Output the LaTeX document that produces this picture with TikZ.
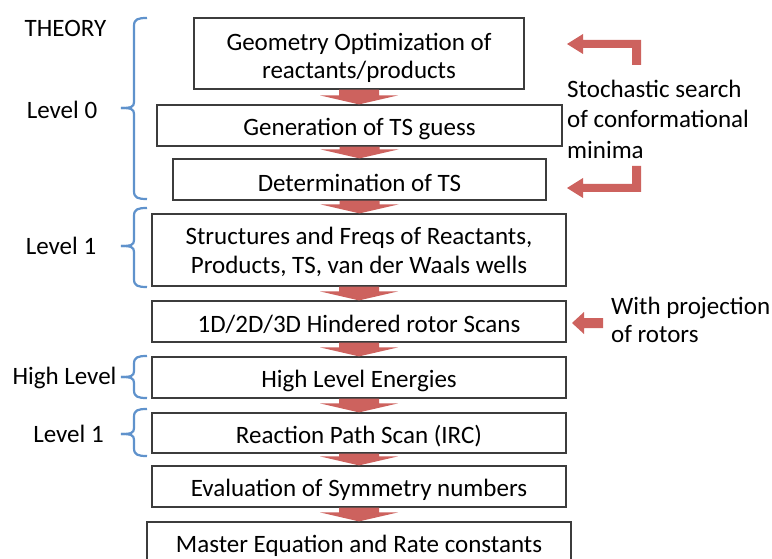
\documentclass[tikz,border=0pt]{standalone}
\usepackage{fontspec}
\setmainfont{Carlito}
\usetikzlibrary{calc}
\definecolor{boxline}{RGB}{60,60,60}
\definecolor{arrred}{RGB}{205,98,94}
\definecolor{braceblue}{RGB}{95,146,204}
\tikzset{
  stepbox/.style={draw=boxline, line width=1.2pt, fill=white, align=center, inner sep=0pt,
    font=\fontsize{25}{28.5}\selectfont},
  lowtext/.style={execute at begin node={\rule{0pt}{24pt}}},
  lbl/.style={font=\fontsize{25}{28.5}\selectfont, inner sep=0pt, align=left},
  bracepath/.style={draw=braceblue, line width=2.2pt},
  redarrow/.style={fill=arrred, draw=none},
}
\newcommand\flowarrow[2]{%
  \fill[redarrow] let \p1=(#1.south), \p2=(#2.north) in
    ({\x1-20pt},\y1) -- ({\x1-20pt},{\y2+9pt}) -- ({\x1-39pt},{\y2+9pt}) -- (\x1,\y2)
    -- ({\x1+39pt},{\y2+9pt}) -- ({\x1+20pt},{\y2+9pt}) -- ({\x1+20pt},\y1) -- cycle;}
\newcommand\levelbrace[4]{% x of vertical, top, bottom, tick y
  \draw[bracepath] (#1+13,#2) .. controls (#1+4,#2) and (#1,#2+1) .. (#1,#2+8)
    -- (#1,#4-6) .. controls (#1,#4-1) and (#1-3,#4) .. (#1-13,#4);
  \draw[bracepath] (#1-13,#4) .. controls (#1-3,#4) and (#1,#4+1) .. (#1,#4+6)
    -- (#1,#3-8) .. controls (#1,#3-1) and (#1+4,#3) .. (#1+13,#3);}
\begin{document}
\begin{tikzpicture}[x=1pt,y=-1pt]
\clip (0,0) rectangle (772,559);
\fill[white] (0,0) rectangle (772,559);

% boxes
\node[stepbox, minimum width=330pt, minimum height=71pt] (b1) at (359,53.5) {\rule{0pt}{26.5pt}Geometry Optimization of\\reactants/products};
\node[stepbox, lowtext, minimum width=405pt, minimum height=41pt] (b2) at (359.5,125.5) {Generation of TS guess};
\node[stepbox, lowtext, minimum width=373pt, minimum height=41pt] (b3) at (359.5,179.5) {Determination of TS};
\node[stepbox, minimum width=414pt, minimum height=72pt] (b4) at (359,250) {\rule{0pt}{21pt}Structures and Freqs of Reactants,\\Products, TS, van der Waals wells};
\node[stepbox, lowtext, minimum width=414pt, minimum height=41pt] (b5) at (359,321.5) {1D/2D/3D Hindered rotor Scans};
\node[stepbox, lowtext, minimum width=414pt, minimum height=41pt] (b6) at (359,377.5) {High Level Energies};
\node[stepbox, lowtext, minimum width=414pt, minimum height=40pt] (b7) at (359,433) {Reaction Path Scan (IRC)};
\node[stepbox, lowtext, minimum width=414pt, minimum height=41pt] (b8) at (359,486.5) {Evaluation of Symmetry numbers};
\node[stepbox, minimum width=424pt, minimum height=48pt] (b9) at (359,546) {Master Equation and Rate constants};

% flow arrows
\flowarrow{b1}{b2}
\flowarrow{b2}{b3}
\flowarrow{b3}{b4}
\flowarrow{b4}{b5}
\flowarrow{b5}{b6}
\flowarrow{b6}{b7}
\flowarrow{b7}{b8}
\flowarrow{b8}{b9}

% left labels
\node[lbl] (theory) at (65.5,28) {THEORY};
\node[lbl] (lev0) at (62,110) {Level 0};
\node[lbl] (lev1) at (61,246) {Level 1};
\node[lbl] (high) at (64.5,378) {High Level};
\node[lbl] (lev1b) at (68.5,434) {Level 1};

% braces
\levelbrace{134}{18}{199}{108}
\levelbrace{134}{208}{287}{246}
\levelbrace{134}{356}{398}{377}
\levelbrace{134}{409}{456}{434}

% right texts
\node[lbl, anchor=west, font=\fontsize{25}{30.5}\selectfont] (stoch) at (567,119) {Stochastic search\\of conformational\\minima};
\node[lbl, anchor=west] (proj) at (611,320) {With projection\\of rotors};

% side arrows
\fill[redarrow] (567,44) -- (583,34) -- (583,40) -- (641,40) -- (641,65) -- (632,65) -- (632,48) -- (583,48) -- (583,54) -- cycle;
\fill[redarrow] (567,188) -- (583,178) -- (583,184) -- (632,184) -- (632,166) -- (641,166) -- (641,192) -- (583,192) -- (583,198) -- cycle;
\fill[redarrow] (572,323) -- (584,312) -- (584,318) -- (603,318) -- (603,328) -- (584,328) -- (584,334) -- cycle;
\end{tikzpicture}
\end{document}
